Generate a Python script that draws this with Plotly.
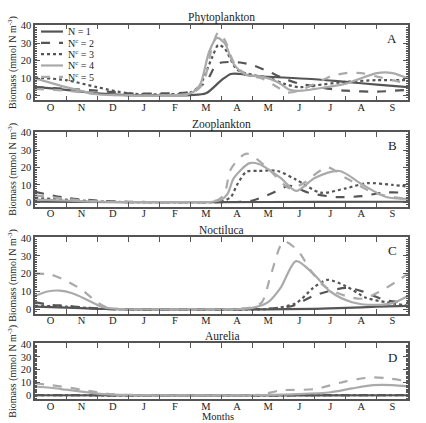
import plotly.graph_objects as go

# ---------------- data (x in months since 1 October) ----------------
month_labels = ["O", "N", "D", "J", "F", "M", "A", "M", "J", "J", "A", "S"]
series_names = ["N = 1", "N<sup>c</sup> = 2", "N<sup>c</sup> = 3", "N<sup>c</sup> = 4", "N<sup>c</sup> = 5"]
panel_titles = ["Phytoplankton", "Zooplankton", "Noctiluca", "Aurelia"]
panel_letters = ["A", "B", "C", "D"]

# Phytoplankton
phy_x1 = [0, 1, 2, 3, 4, 5, 5.5, 6, 6.3, 6.6, 7, 8, 9, 10, 11, 12]
phy_y1 = [5, 3.5, 1.5, 0.5, 0.3, 0.5, 1.5, 9, 12.5, 12.5, 11.5, 10.5, 9.5, 8, 6.5, 5]
phy_x2 = [0, 1, 2, 3, 4, 5, 5.5, 5.8, 6, 6.6, 7, 7.5, 8, 8.5, 9, 9.5, 10, 11, 12]
phy_y2 = [5, 4, 3, 1.5, 1.5, 2.5, 8, 17, 19, 19, 17.5, 14, 10, 7, 5.5, 4, 3, 2.5, 3.5]
phy_x3 = [0, 1, 2, 3, 4, 5, 5.3, 5.7, 5.9, 6.1, 6.5, 7, 7.5, 8, 8.5, 9, 10, 11, 12]
phy_y3 = [10.5, 9, 5, 1.5, 1, 2, 6, 22, 29, 27, 15, 12, 10.5, 7, 5, 6, 8, 9, 9]
phy_x4 = [0, 1, 2, 3, 4, 5, 5.3, 5.6, 5.85, 6.1, 6.4, 6.8, 7.3, 7.8, 8.2, 8.6, 9, 10, 11, 11.5, 12]
phy_y4 = [10, 5, 1, 0.3, 0.3, 1.5, 6, 25, 33, 30, 18, 12, 11, 8, 3.5, 3, 4, 7, 13, 13, 10]
phy_x5 = [0, 1, 2, 3, 4, 5, 5.4, 5.7, 5.9, 6.1, 6.4, 6.8, 7.3, 7.8, 8.1, 8.5, 9, 9.5, 10, 10.5, 11, 12]
phy_y5 = [4, 3, 1, 0.3, 0.3, 1, 7, 28, 36, 32, 19, 12, 10, 5, 2, 3, 7, 11, 13, 13, 11, 7]

# Zooplankton
zoo_x1 = [0, 3, 6, 9, 12]
zoo_y1 = [0.3, 0.1, 0.1, 0.2, 0.3]
zoo_x2 = [0, 1, 2, 3, 4, 6.0, 6.6, 7, 7.6, 8.2, 8.8, 9.7, 10.5, 11.2, 12]
zoo_y2 = [6, 2.5, 1, 0.3, 0.1, 0.1, 0.3, 1, 5, 9.5, 5.5, 3, 3.5, 5.5, 5.5]
zoo_x3 = [0, 1, 2, 3, 5.3, 6.0, 6.3, 6.5, 6.8, 7.2, 7.8, 8.4, 9.2, 10, 10.7, 11.5, 12]
zoo_y3 = [2.5, 1.5, 0.5, 0.1, 0.1, 0.5, 3, 10, 17.5, 18, 18, 13, 5.5, 8, 11, 10, 9]
zoo_x4 = [0, 1, 2, 3, 5.0, 5.7, 6.0, 6.2, 6.4, 6.9, 7.2, 7.9, 8.4, 9, 9.8, 10.5, 11.3, 12]
zoo_y4 = [1.5, 1, 0.3, 0.1, 0.1, 0.3, 1.5, 5, 14, 22.5, 22, 14, 6.5, 14, 18, 10.5, 3, 2]
zoo_x5 = [0, 1, 2, 3, 5.0, 5.6, 5.9, 6.1, 6.3, 6.8, 7.4, 8.2, 8.6, 9.4, 10, 10.9, 11.7, 12]
zoo_y5 = [4, 2, 0.5, 0.1, 0.1, 0.3, 1.5, 5, 19, 28, 21, 8, 10.5, 20, 14, 5.5, 2.5, 2]

# Noctiluca
noc_x1 = [0, 1, 2, 2.5, 3.5, 7.5, 9, 10, 11, 12]
noc_y1 = [1.5, 1, 0.3, 0.1, 0.03, 0.03, 0.3, 0.8, 1.5, 2]
noc_x2 = [0, 0.5, 1, 1.5, 2, 2.4, 3.2, 6.8, 7.3, 8.3, 8.95, 10, 10.55, 11.3, 12]
noc_y2 = [4, 2.5, 2, 1.2, 0.5, 0.15, 0.03, 0.03, 0.2, 2, 7.5, 12, 10, 5, 4]
noc_x3 = [0, 1, 2, 2.5, 3.3, 7.0, 7.6, 8.4, 8.95, 9.4, 10, 10.65, 11.3, 12]
noc_y3 = [2, 1.5, 0.5, 0.15, 0.03, 0.03, 0.3, 3.5, 12, 16.5, 13, 6.5, 4, 2]
noc_x4 = [0, 0.4, 0.8, 1.2, 1.6, 2.0, 2.3, 2.7, 3.5, 6.0, 6.6, 7.0, 7.5, 7.9, 8.4, 8.95, 9.5, 10.2, 10.9, 11.5, 12]
noc_y4 = [7.5, 10, 10.5, 9, 6, 2.5, 0.8, 0.2, 0.05, 0.05, 0.2, 0.8, 4, 12, 27, 20, 10, 4, 2.5, 3.5, 7.5]
noc_x5 = [0, 0.5, 1, 1.5, 2, 2.3, 2.7, 3.5, 6.0, 6.6, 7.0, 7.3, 7.6, 8.0, 8.45, 8.9, 9.3, 10, 10.55, 11.1, 11.75, 12]
noc_y5 = [20, 19.5, 16, 11, 4, 1.2, 0.2, 0.05, 0.05, 0.3, 1.2, 4, 20, 38, 33, 21, 13, 7.5, 6, 10, 17, 20]

# Aurelia
aur_x1 = [0, 3, 6, 9, 12]
aur_y1 = [0.2, 0.1, 0.1, 0.1, 0.2]
aur_x2 = [0, 3, 6, 9, 12]
aur_y2 = [0.4, 0.1, 0.1, 0.2, 0.4]
aur_x3 = [0, 3, 6, 9, 12]
aur_y3 = [0.3, 0.1, 0.1, 0.2, 0.3]
aur_x4 = [0, 0.5, 1, 1.5, 2, 2.5, 3, 4, 6.5, 7.0, 8.4, 9.5, 10.2, 10.9, 11.5, 12]
aur_y4 = [7, 6, 4.5, 3, 1.5, 0.7, 0.3, 0.1, 0.1, 0.2, 1, 2.5, 5.5, 8, 8, 7]
aur_x5 = [0, 0.5, 1, 1.5, 2, 2.5, 3, 4, 6.3, 6.8, 7.3, 7.9, 9.0, 10.0, 10.8, 11.3, 12]
aur_y5 = [9.5, 8, 6.5, 4.5, 2.5, 1, 0.5, 0.2, 0.1, 0.2, 0.8, 4, 5, 11, 14, 13.5, 11]

panels = [
    [(phy_x1, phy_y1), (phy_x2, phy_y2), (phy_x3, phy_y3), (phy_x4, phy_y4), (phy_x5, phy_y5)],
    [(zoo_x1, zoo_y1), (zoo_x2, zoo_y2), (zoo_x3, zoo_y3), (zoo_x4, zoo_y4), (zoo_x5, zoo_y5)],
    [(noc_x1, noc_y1), (noc_x2, noc_y2), (noc_x3, noc_y3), (noc_x4, noc_y4), (noc_x5, noc_y5)],
    [(aur_x1, aur_y1), (aur_x2, aur_y2), (aur_x3, aur_y3), (aur_x4, aur_y4), (aur_x5, aur_y5)],
]

# ---------------- styling ----------------
W, H = 426, 423
ML, MR = 35, 18
PW = W - ML - MR
dark = "#555555"
light = "#aaaaaa"
styles = [
    dict(color=dark, dash="solid", width=2.2),
    dict(color=dark, dash="dash", width=2.2),
    dict(color=dark, dash="dot", width=2.2),
    dict(color=light, dash="solid", width=2.2),
    dict(color=light, dash="dash", width=2.2),
]
panel_px = [(20, 97), (129, 205), (236, 314), (344, 401)]
y_ranges = [[-2.5, 40.5], [-2.5, 40.5], [-2.5, 40.5], [-3, 40.5]]
font_family = "Liberation Serif"


def px_x(px):
    return (px - ML) / PW


def px_y(py):
    return 1 - py / H


fig = go.Figure()
for p, series in enumerate(panels):
    suffix = "" if p == 0 else str(p + 1)
    for s, (xs, ys) in enumerate(series):
        fig.add_trace(go.Scatter(
            x=xs, y=ys, mode="lines", name=series_names[s],
            line=dict(shape="spline", smoothing=0.8, **styles[s]),
            xaxis="x" + suffix, yaxis="y" + suffix,
            showlegend=False,
        ))

layout = dict(
    width=W, height=H,
    margin=dict(l=ML, r=MR, t=0, b=0),
    paper_bgcolor="white", plot_bgcolor="white",
    font=dict(family=font_family, size=10, color="#222222"),
    annotations=[], shapes=[],
)
for p in range(4):
    suffix = "" if p == 0 else str(p + 1)
    top, bot = panel_px[p]
    layout["xaxis" + suffix] = dict(
        domain=[0, 1], anchor="y" + suffix, range=[0, 12],
        tickmode="array", tickvals=[i + 0.5 for i in range(12)], ticktext=month_labels,
        ticks="inside", ticklen=0, showgrid=False, zeroline=False,
        showline=True, linecolor=dark, linewidth=1.5, mirror="ticks",
        tickfont=dict(size=10.5), ticklabelstandoff=-4,
        minor=dict(tickmode="array", tickvals=list(range(1, 12)), ticks="inside",
                   ticklen=5, tickcolor=dark, showgrid=False),
    )
    layout["yaxis" + suffix] = dict(
        domain=[px_y(bot), px_y(top)], anchor="x" + suffix, range=y_ranges[p],
        tickmode="array", tickvals=[0, 10, 20, 30, 40],
        ticks="inside", ticklen=5, tickcolor=dark, showgrid=False, zeroline=False,
        showline=True, linecolor=dark, linewidth=1.5, mirror="ticks",
        tickfont=dict(size=10.5),
        title=dict(text="Biomass (mmol N m<sup>-3</sup>)", font=dict(size=10), standoff=2),
        minor=dict(tickmode="linear", tick0=0, dtick=1, ticks="inside",
                   ticklen=2.5, tickcolor=dark, showgrid=False),
    )
    layout["annotations"].append(dict(
        text=panel_titles[p], xref="paper", yref="paper", x=0.5, y=px_y(top + 1),
        xanchor="center", yanchor="bottom", showarrow=False, font=dict(size=11.5)))
    layout["annotations"].append(dict(
        text=panel_letters[p], xref="paper", yref="paper", x=px_x(399), y=px_y(top + 14),
        xanchor="right", yanchor="middle", showarrow=False, font=dict(size=13)))

# hand-made compact legend inside panel A
legend_y0 = 27
legend_dy = 11.5
for s in range(5):
    yy = px_y(legend_y0 + s * legend_dy)
    st = styles[s]
    layout["shapes"].append(dict(
        type="line", xref="paper", yref="paper", x0=px_x(41), x1=px_x(63), y0=yy, y1=yy,
        line=dict(color=st["color"], dash=st["dash"], width=st["width"])))
    layout["annotations"].append(dict(
        text=series_names[s], xref="paper", yref="paper", x=px_x(66), y=yy,
        xanchor="left", yanchor="middle", showarrow=False, font=dict(size=10)))

layout["annotations"].append(dict(
    text="Months", xref="paper", yref="paper", x=0.49, y=px_y(418),
    xanchor="center", yanchor="middle", showarrow=False, font=dict(size=10.5)))

fig.update_layout(**layout)
fig.write_html("out.html")
